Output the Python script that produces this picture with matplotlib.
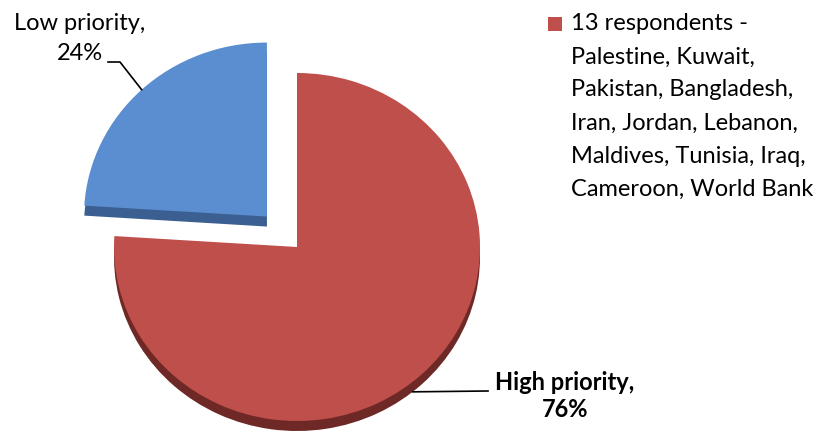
import numpy as np
import matplotlib
matplotlib.use("Agg")
import matplotlib.pyplot as plt
from matplotlib.patches import Rectangle
from matplotlib.lines import Line2D

categories = ["High priority", "Low priority"]
shares = [76, 24]
legend_lines = ["13 respondents -", "Palestine, Kuwait,", "Pakistan, Bangladesh,",
                "Iran, Jordan, Lebanon,", "Maldives, Tunisia, Iraq,", "Cameroon, World Bank"]

plt.rcParams['font.family'] = ['Lato', 'DejaVu Sans']

W, H = 824, 436
fig = plt.figure(figsize=(W / 100, H / 100), dpi=100)
ax = fig.add_axes([0, 0, 1, 1])

# pie centre / radii in pixels (y from top)
cx, cy = 297, 247
rx, ry = 183, 174
depth = 10 / ry

face = ['#BE4F4B', '#5A8ED0']
side = ['#6E2826', '#3A5F90']
explode = [0, 0.24]

ax.pie(shares, explode=explode, startangle=90, counterclock=False, colors=side,
       center=(0, -depth), wedgeprops=dict(linewidth=0))
wedges, _ = ax.pie(shares, explode=explode, startangle=90, counterclock=False,
                   colors=face, wedgeprops=dict(linewidth=0))
ax.set_aspect('auto')
ax.set_xlim(-cx / rx, (W - cx) / rx)
ax.set_ylim(-(H - cy) / ry, cy / ry)
ax.axis('off')


def px(x, y):
    return x / W, 1 - y / H


def wedge_tip(w, shift=0.0, dy=0.0):
    mid = np.deg2rad((w.theta1 + w.theta2) / 2 + shift)
    return w.center[0] + np.cos(mid) * w.r, w.center[1] + np.sin(mid) * w.r + dy


def leader(tip, pts):
    d = ax.transData.transform(tip)
    f = fig.transFigure.inverted().transform(d)
    xs = [f[0]] + [px(*p)[0] for p in pts]
    ys = [f[1]] + [px(*p)[1] for p in pts]
    fig.add_artist(Line2D(xs, ys, color='black', lw=1.2))


fs = 17
# low priority label
fig.text(*px(80, 24), categories[1] + ",", ha='center', va='center', fontsize=fs)
fig.text(*px(80, 54), f"{shares[1]}%", ha='center', va='center', fontsize=fs)
leader(wedge_tip(wedges[1]), [(120, 62), (108, 62)])

# high priority label
fig.text(*px(565, 382), categories[0] + ",", ha='center', va='center', fontsize=fs, fontweight='bold')
fig.text(*px(565, 409), f"{shares[0]}%", ha='center', va='center', fontsize=fs, fontweight='bold')
leader(wedge_tip(wedges[0], shift=-4, dy=-depth), [(488, 391)])

# legend
x0, y0 = px(548, 31)
fig.add_artist(Rectangle((x0, y0), 14 / W, 14 / H, transform=fig.transFigure,
                         color=face[0], lw=0))
for i, line in enumerate(legend_lines):
    fig.text(*px(571, 24 + 33 * i), line, ha='left', va='center', fontsize=fs)

fig.savefig("out.png", dpi=100)
